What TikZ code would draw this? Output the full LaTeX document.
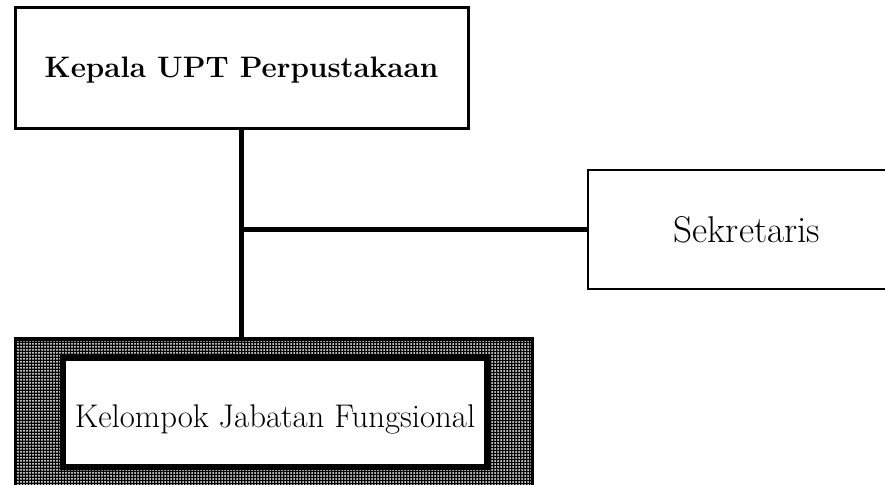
\documentclass[tikz,border=0pt]{standalone}
\usepackage{fontspec}
\usetikzlibrary{positioning,patterns.meta}
\tikzset{
  kotak/.style={draw,rectangle,line width=2.25pt,fill=white,inner sep=0pt},
  garis/.style={line width=3.75pt},
}
\begin{document}
\begin{tikzpicture}[x=.75pt,y=-.75pt]
		\useasboundingbox(0,0)rectangle(885,485);
		\node[kotak,minimum width=339.75pt,minimum height=90pt,text height=20pt,text depth=5pt,
		  font=\fontsize{22.2}{26}\selectfont\bfseries](kepala)at(241.5,68){Kepala UPT Perpustakaan};
		\node[draw,line width=1pt,minimum width=238.5pt,minimum height=89.25pt,text height=24pt,text depth=5.2pt,
		  font=\fontsize{27.9}{33}\selectfont](sekre)at(747,229.5){Sekretaris};
		\node[draw,line width=2.5pt,minimum width=388pt,minimum height=112pt,
		  preaction={fill=black},pattern={Dots[distance=2.25pt,radius=.75pt]},pattern color=white](luar)at(274,413.5){};
		\node[kotak,line width=4.5pt,minimum width=318pt,minimum height=81.75pt,text height=26pt,text depth=4.2pt,
		  font=\fontsize{24.6}{29}\selectfont](fungsi)at(275,412.5){Kelompok Jabatan Fungsional};
		\draw[garis](kepala.south)--(kepala.south|-luar.north);
		\draw[garis](kepala.south|-sekre.west)--(sekre.west);
		\end{tikzpicture}
\end{document}
